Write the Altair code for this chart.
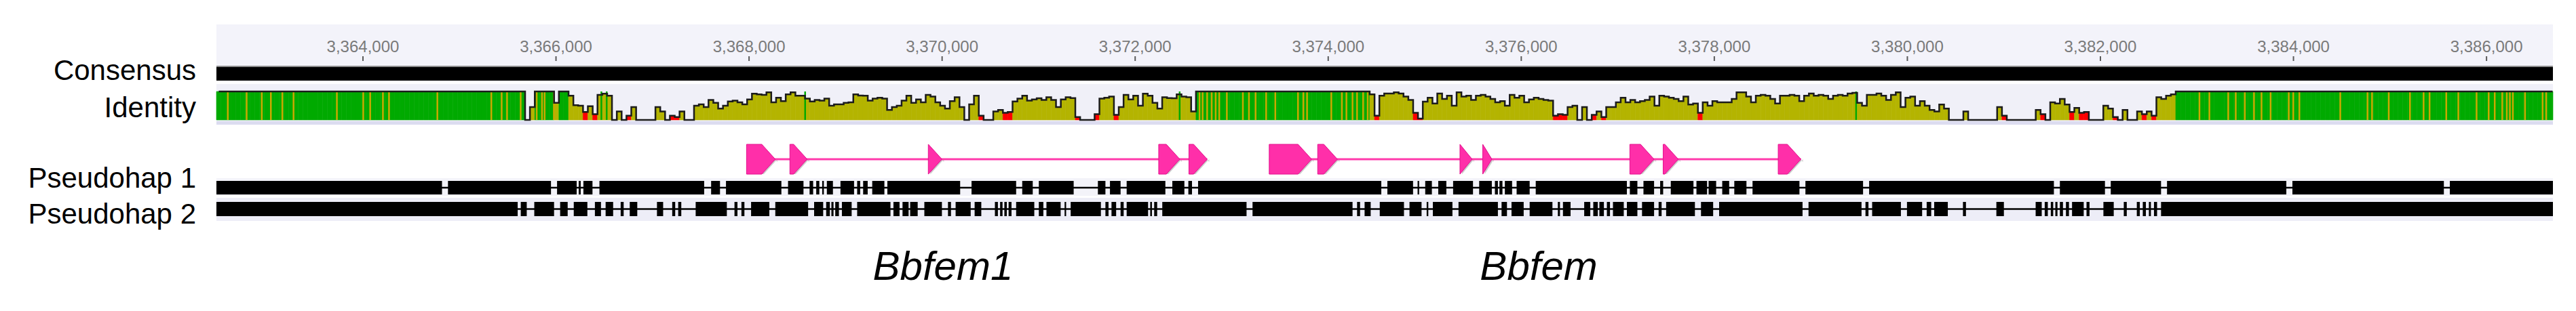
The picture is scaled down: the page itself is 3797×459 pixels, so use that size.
import altair as alt
import pandas as pd

# ------------------------------------------------------------------ data
TRACK_START = 3362482
TRACK_END = 3386688

tick_values = [3364000, 3366000, 3368000, 3370000, 3372000, 3374000,
               3376000, 3378000, 3380000, 3382000, 3384000, 3386000]

# identity (%) in 50 bp windows starting at BIN_START
BIN_START = 3362480
BIN_SIZE = 50
identity = (
    [100] * 62
    + [100, 100, 0, 45, 100, 100, 100, 100, 60, 100,
       100, 85, 52, 50, 28, 48, 20, 88, 92, 85,
       0, 30, 0, 15, 45, 0, 0, 0, 0, 45,
       30, 0, 15, 10, 30, 0, 0, 50, 55, 45,
       70, 60, 40, 50, 65, 68, 62, 55, 72, 92,
       90, 88, 97, 62, 78, 66, 90, 97, 85, 85,
       75, 65, 70, 68, 75, 50, 55, 55, 60, 62,
       90, 86, 85, 68, 75, 78, 75, 35, 45, 50,
       68, 85, 60, 72, 62, 88]
    + [82, 62, 50, 40, 66, 80, 45, 0, 55, 85,
       15, 0, 0, 30, 35, 25, 28, 65, 75, 85,
       68, 72, 76, 70, 80, 70, 45, 72, 80, 77,
       10, 0, 0, 0, 20, 75, 78, 82, 18, 45,
       88, 72, 85, 50, 92, 85, 60, 40, 80, 77,
       76, 90, 82, 80, 30]
    + [100] * 31
    + [100, 100, 100, 100, 100, 90, 15, 85, 93, 93,
       97, 93, 82, 70, 25, 5, 64, 78, 58, 93,
       74, 85, 50, 97, 82, 85, 70, 85, 88, 82,
       74, 62, 66, 50, 88, 78, 85, 62, 72, 78,
       74, 70, 68, 15, 20, 18, 45, 50, 0, 45,
       0, 18, 30, 10, 45, 45, 62, 78, 62, 70,
       62, 66, 70, 82, 50, 85, 82, 78, 74, 66,
       82, 54, 58, 25, 62, 50, 66, 62, 62, 62,
       74, 97, 97, 82, 62, 85]
    + [88, 85, 74, 58, 85, 85, 88, 85, 66, 85,
       93, 85, 88, 85, 74, 85, 88, 85, 93, 95,
       60, 50, 88, 88, 93, 85, 70, 88, 97, 45,
       78, 82, 50, 66, 50, 35, 30, 54, 40, 0,
       0, 0, 30, 0, 0, 0, 0, 0, 0, 45,
       15, 0, 0, 0, 0, 0, 0, 35, 20, 0,
       62, 58, 74, 54, 28, 42, 25, 28, 0, 0,
       0, 50, 40, 10, 0, 35, 0, 0, 30, 20,
       30, 15, 80, 74, 85]
    + [90]
    + [100] * 79
)

# single differing sites inside the conserved blocks
variant_sites = [3362600, 3362795, 3362952, 3363046, 3363165, 3363281, 3363730,
                 3364003, 3364075, 3364207, 3364270, 3364771, 3365330, 3365437,
                 3365493, 3365634, 3365800, 3365855, 3365882, 3365978,
                 3372667, 3372699, 3372746, 3372793, 3372834, 3372871, 3372950,
                 3373116, 3373179, 3373248, 3373357, 3373452, 3373687, 3373743,
                 3373781, 3374032, 3374142, 3374189, 3374252, 3374299, 3374362,
                 3374409,
                 3383026, 3383129, 3383324, 3383402, 3383496, 3383591, 3383669,
                 3383763, 3383951, 3383998, 3384061, 3384485, 3384767, 3384814,
                 3384987, 3385207, 3385348, 3385410, 3385583, 3385708, 3385897,
                 3386022, 3386085, 3386163, 3386210, 3386242, 3386273, 3386399,
                 3386581, 3386618]
identical_sites = [3366470, 3366525, 3368581, 3372461, 3379469]

ph1_blocks = [(3362482, 3364819), (3364881, 3365948), (3366011, 3366214), (3366235, 3366256),
              (3366284, 3366378), (3366450, 3367535), (3367607, 3367699), (3367761, 3368335),
              (3368404, 3368564), (3368627, 3368664), (3368696, 3368728), (3368758, 3368775),
              (3368806, 3368869), (3368947, 3369088), (3369120, 3369151), (3369182, 3369229),
              (3369276, 3369402), (3369433, 3370187), (3370305, 3370767), (3370830, 3370939),
              (3371002, 3371363), (3371614, 3371692), (3371739, 3371849), (3371912, 3372313),
              (3372385, 3372510), (3372551, 3372589), (3372652, 3374550), (3374613, 3374879),
              (3374926, 3374942), (3375005, 3375074), (3375140, 3375224), (3375294, 3375500),
              (3375564, 3375695), (3375727, 3375758), (3375774, 3375805), (3375830, 3375905),
              (3375952, 3376087), (3376150, 3377094), (3377125, 3377203), (3377266, 3377376),
              (3377439, 3377470), (3377549, 3377784), (3377815, 3377925), (3377941, 3378019),
              (3378082, 3378154), (3378207, 3378333), (3378396, 3378882), (3378944, 3379541),
              (3379604, 3381518), (3381580, 3382047), (3382107, 3382628), (3382690, 3383926),
              (3383989, 3385558), (3385620, 3386688)]

ph2_blocks = [(3362482, 3365603), (3365635, 3365697), (3365775, 3365980), (3366043, 3366121),
              (3366184, 3366325), (3366403, 3366466), (3366514, 3366592), (3366670, 3366701),
              (3366764, 3366842), (3367046, 3367110), (3367204, 3367235), (3367266, 3367298),
              (3367447, 3367770), (3367849, 3367880), (3367921, 3367952), (3368021, 3368210),
              (3368272, 3368612), (3368674, 3368768), (3368799, 3368837), (3368853, 3368875),
              (3368893, 3368931), (3368962, 3369063), (3369120, 3369465), (3369496, 3369559),
              (3369590, 3369653), (3369669, 3369747), (3369816, 3369998), (3370061, 3370092),
              (3370140, 3370296), (3370337, 3370406), (3370547, 3370578), (3370601, 3370626),
              (3370645, 3370670), (3370689, 3370719), (3370767, 3370955), (3371002, 3371049),
              (3371081, 3371228), (3371269, 3371285), (3371332, 3371645), (3371692, 3371724),
              (3371755, 3371803), (3371849, 3371881), (3371912, 3372134), (3372156, 3372174),
              (3372197, 3372228), (3372281, 3373154), (3373216, 3374252), (3374299, 3374330),
              (3374377, 3374440), (3374534, 3374785), (3374842, 3374967), (3375020, 3375037),
              (3375084, 3375287), (3375350, 3375758), (3375796, 3375852), (3375899, 3376025),
              (3376087, 3376323), (3376379, 3376401), (3376432, 3376511), (3376652, 3376715),
              (3376746, 3376793), (3376809, 3376856), (3376887, 3376919), (3376950, 3377062),
              (3377094, 3377203), (3377251, 3377376), (3377423, 3377454), (3377501, 3377799),
              (3377862, 3377988), (3378050, 3378914), (3378976, 3379525), (3379566, 3379597),
              (3379635, 3379933), (3379996, 3380153), (3380200, 3380247), (3380278, 3380419),
              (3380576, 3380607), (3380922, 3381000), (3381329, 3381392), (3381423, 3381455),
              (3381486, 3381511), (3381533, 3381555), (3381580, 3381612), (3381643, 3381674),
              (3381706, 3381827), (3381856, 3381887), (3382031, 3382138), (3382242, 3382273),
              (3382377, 3382408), (3382439, 3382471), (3382502, 3382523), (3382555, 3382587),
              (3382628, 3386688)]

gene_names = ["Bbfem1", "Bbfem"]
gene_label_pos = [3370009, 3376181]
gene_exons = [
    [(3367974, 3368272), (3368423, 3368602), (3369857, 3369998),
     (3372244, 3372463), (3372557, 3372746)],
    [(3373389, 3373828), (3373891, 3374095), (3375365, 3375491),
     (3375601, 3375695), (3377125, 3377376), (3377470, 3377627),
     (3378662, 3378897)],
]

row_labels = ["Consensus", "Identity", "Pseudohap 1", "Pseudohap 2"]

# ------------------------------------------------------------------ style / layout
W = 3781
H_TOP, H_GENE, H_BOT = 180, 70, 193
FONT = "Liberation Sans"
ARROW_BP = 140
GREEN, OLIVE, RED = "#00aa00", "#b4b400", "#ff0000"
PINK = "#ff2fa9"

xs = alt.Scale(domain=[TRACK_START, TRACK_END], range=[311, 3755])


def X(f):
    return alt.X(f"{f}:Q", scale=xs, axis=None)


def X2(f):
    return alt.X2(f)


# ------------------------------------------------------------------ frames
track_df = pd.DataFrame({"s": [TRACK_START], "e": [TRACK_END]})
tick_df = pd.DataFrame({"pos": tick_values})

rows = []
for i, v in enumerate(identity):
    s = max(BIN_START + i * BIN_SIZE, TRACK_START)
    e = min(BIN_START + (i + 1) * BIN_SIZE, TRACK_END)
    cls = "full" if v >= 100 else ("part" if v >= 30 else "low")
    rows.append({"start": s, "end": e, "mid": (s + e) / 2, "value": v,
                 "zero": 0, "cls": cls})
ident_df = pd.DataFrame(rows)
var_df = pd.DataFrame({"pos": variant_sites, "top": 100, "bot": 0})
same_df = pd.DataFrame({"pos": identical_sites, "top": 100, "bot": 0})

poly = []
gene_rows = []
for g, exons in enumerate(gene_exons):
    gene_rows.append({"s": exons[0][0], "e": exons[-1][1]})
    for j, (s, e) in enumerate(exons):
        eid = f"{g}_{j}"
        body_end = max(s, e - ARROW_BP)
        poly.append({"id": eid, "x": s, "h": 1.0})
        if body_end > s:
            poly.append({"id": eid, "x": body_end, "h": 1.0})
        poly.append({"id": eid, "x": e, "h": 0.0})
exon_df = pd.DataFrame(poly)
exon_df["nh"] = -exon_df["h"]
gene_df = pd.DataFrame(gene_rows)

ph1_df = pd.DataFrame(ph1_blocks, columns=["s", "e"])
ph2_df = pd.DataFrame(ph2_blocks, columns=["s", "e"])
gname_df = pd.DataFrame({"name": gene_names, "pos": gene_label_pos})


def band(color, y0, y1):
    return alt.Chart(track_df).mark_rect(color=color).encode(
        x=X("s"), x2=X2("e"), y=alt.value(y0), y2=alt.value(y1))


def row_label(text, baseline_y):
    return alt.Chart(pd.DataFrame({"t": [text]})).mark_text(
        font=FONT, fontSize=42, color="#000000", align="right", baseline="alphabetic"
    ).encode(text="t:N", x=alt.value(281), y=alt.value(baseline_y))


# ------------------------------------------------------------------ panel 1: ruler, consensus, identity
tick_marks = alt.Chart(tick_df).mark_rule(color="#5a5a5a", strokeWidth=2).encode(
    x=X("pos"), y=alt.value(75), y2=alt.value(82))
tick_text = alt.Chart(tick_df).mark_text(
    font=FONT, fontSize=24, color="#7a7a7a", align="center", baseline="alphabetic"
).encode(x=X("pos"), y=alt.value(69), text=alt.Text("pos:Q", format=","))

yi = alt.Scale(domain=[0, 100], range=[169, 127])
cs = alt.Scale(domain=["full", "part", "low"], range=[GREEN, OLIVE, RED])
ident_bars = alt.Chart(ident_df).mark_rect(strokeWidth=0.6).encode(
    x=X("start"), x2=X2("end"),
    y=alt.Y("value:Q", scale=yi, axis=None), y2=alt.Y2("zero"),
    color=alt.Color("cls:N", scale=cs, legend=None),
    stroke=alt.Stroke("cls:N", scale=cs, legend=None))
stripes = alt.Chart(var_df).mark_rule(color="#caa800", strokeWidth=2.5).encode(
    x=X("pos"), y=alt.Y("top:Q", scale=yi, axis=None), y2=alt.Y2("bot"))
same = alt.Chart(same_df).mark_rule(color=GREEN, strokeWidth=2.5).encode(
    x=X("pos"), y=alt.Y("top:Q", scale=yi, axis=None), y2=alt.Y2("bot"))
ident_line = alt.Chart(ident_df).mark_line(
    interpolate="step", color="#1c1c1c", strokeWidth=2.5
).encode(x=X("mid"), y=alt.Y("value:Q", scale=yi, axis=None))

panel_top = alt.layer(
    band("#f3f3fa", 28, 89), tick_marks, tick_text,
    band("#8c8c8c", 89, 91), band("#000000", 91, 111),
    band("#f0f0f8", 116, 171), band("#dcdcf0", 171, 176),
    ident_bars, stripes, same, ident_line,
    row_label(row_labels[0], 110), row_label(row_labels[1], 165),
).properties(width=W, height=H_TOP)

# ------------------------------------------------------------------ panel 2: gene models
yg = alt.Scale(domain=[-1, 1], range=[69, 25])
gene_line = alt.Chart(gene_df).mark_rule(color="#ff3aab", strokeWidth=3).encode(
    x=X("s"), x2=X2("e"), y=alt.value(47))
shadow = alt.Chart(exon_df).mark_area(
    color="#9a9a9a", opacity=0.5, xOffset=3, yOffset=4
).encode(x=X("x"), y=alt.Y("h:Q", scale=yg, axis=None), y2=alt.Y2("nh"), detail="id:N")
exon_area = alt.Chart(exon_df).mark_area(
    color=PINK, stroke="#e3128e", strokeWidth=1
).encode(x=X("x"), y=alt.Y("h:Q", scale=yg, axis=None), y2=alt.Y2("nh"), detail="id:N")

panel_gene = alt.layer(shadow, gene_line, exon_area).properties(width=W, height=H_GENE)

# ------------------------------------------------------------------ panel 3: pseudohaplotypes + names
ph1_line = alt.Chart(track_df).mark_rule(color="#000000", strokeWidth=2.5).encode(
    x=X("s"), x2=X2("e"), y=alt.value(19))
ph1_rects = alt.Chart(ph1_df).mark_rect(color="#000000").encode(
    x=X("s"), x2=X2("e"), y=alt.value(9), y2=alt.value(29))
ph2_line = alt.Chart(track_df).mark_rule(color="#000000", strokeWidth=2.5).encode(
    x=X("s"), x2=X2("e"), y=alt.value(50.5))
ph2_rects = alt.Chart(ph2_df).mark_rect(color="#000000").encode(
    x=X("s"), x2=X2("e"), y=alt.value(40), y2=alt.value(61))
gene_text = alt.Chart(gname_df).mark_text(
    font=FONT, fontSize=60, fontStyle="italic", color="#000000",
    align="center", baseline="alphabetic"
).encode(x=X("pos"), y=alt.value(155), text="name:N")

panel_bot = alt.layer(
    band("#f3f3f9", 5, 31), band("#ededf7", 34, 68),
    ph1_line, ph1_rects, ph2_line, ph2_rects,
    row_label(row_labels[2], 19), row_label(row_labels[3], 72),
    gene_text,
).properties(width=W, height=H_BOT)

chart = alt.vconcat(panel_top, panel_gene, panel_bot, spacing=0, bounds="flush").properties(
    padding=0, background="#ffffff"
).configure_view(strokeWidth=0)

chart.save("out.html", embed_options={"renderer": "svg", "actions": False})
